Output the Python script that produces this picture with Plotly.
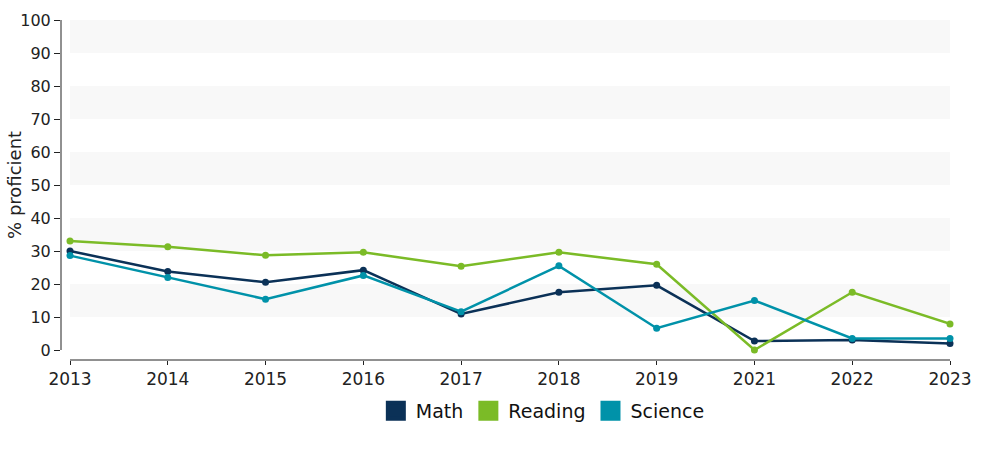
import plotly.graph_objects as go

years = ["2013", "2014", "2015", "2016", "2017", "2018", "2019", "2021", "2022", "2023"]
math = [30.0, 23.8, 20.5, 24.2, 10.9, 17.5, 19.6, 2.7, 3.0, 2.0]
reading = [33.0, 31.3, 28.7, 29.6, 25.4, 29.6, 26.0, 0.0, 17.5, 7.9]
science = [28.6, 22.0, 15.4, 22.6, 11.6, 25.5, 6.6, 15.0, 3.5, 3.5]

series = [("Math", math, "#0b3157"), ("Reading", reading, "#7bbb27"), ("Science", science, "#0092a9")]
band_ranges = [(10, 20), (30, 40), (50, 60), (70, 80), (90, 100)]
y_ticks = list(range(0, 101, 10))

FONT = "DejaVu Sans"
fig = go.Figure()
for name, vals, color in series:
    fig.add_trace(go.Scatter(
        x=years, y=vals, mode="lines+markers", name=name, showlegend=False,
        line=dict(color=color, width=2.5), marker=dict(color=color, size=7),
        cliponaxis=False,
    ))
for name, vals, color in series:
    fig.add_trace(go.Scatter(
        x=[None], y=[None], mode="markers", name=name, showlegend=True,
        marker=dict(color=color, size=16, symbol="square", line=dict(color=color, width=4)),
    ))

shapes = []
for lo, hi in band_ranges:
    shapes.append(dict(type="rect", xref="x", yref="y", x0=0, x1=len(years) - 1, y0=lo, y1=hi,
                       fillcolor="#f8f8f8", line=dict(width=0), layer="below"))
# axis lines
shapes.append(dict(type="line", xref="x", yref="paper", x0=0, x1=len(years) - 1, y0=0, y1=0,
                   line=dict(color="#222222", width=1)))
shapes.append(dict(type="line", xref="paper", yref="y", x0=0, x1=0, y0=0, y1=100,
                   line=dict(color="#222222", width=1)))

fig.update_layout(
    width=1000, height=450,
    margin=dict(l=61, r=50, t=20, b=90),
    paper_bgcolor="white", plot_bgcolor="white",
    font=dict(family=FONT, color="#222222", size=16),
    shapes=shapes,
    annotations=[dict(text="% proficient", textangle=-90, xref="paper", yref="paper",
                      x=-0.0517, y=0.515, xanchor="center", yanchor="middle", showarrow=False,
                      font=dict(size=18, color="#222222"))],
    xaxis=dict(type="category", range=[-0.092, len(years) - 1], showgrid=False, showline=False,
               zeroline=False, ticks="outside", ticklen=4, tickcolor="#222222", automargin=False,
               tickfont=dict(size=17, color="#222222")),
    yaxis=dict(range=[-3.03, 100], tickvals=y_ticks, showgrid=False, showline=False, zeroline=False,
               ticks="outside", ticklen=6, tickcolor="#222222", automargin=False,
               tickfont=dict(size=16, color="#222222")),
    legend=dict(orientation="h", x=0.542, xanchor="center", y=-0.15, yanchor="middle",
                font=dict(size=19, color="#111111"), itemsizing="trace", itemwidth=30,
                tracegroupgap=0),
    showlegend=True,
)

fig.write_html("out.html")
